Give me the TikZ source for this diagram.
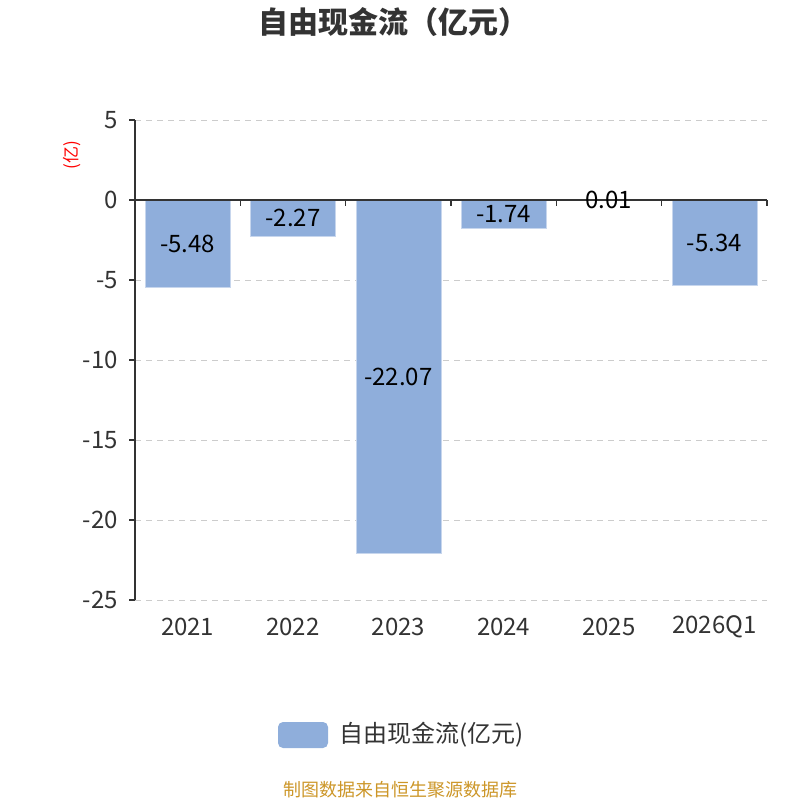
\documentclass[tikz,border=0pt]{standalone}
\usepackage{fontspec}
\setmainfont{Noto Sans CJK SC}
\usepackage{tikz}
\definecolor{barblue}{RGB}{143,174,219}
\definecolor{axisgray}{RGB}{51,51,51}
\definecolor{gridgray}{RGB}{204,204,204}
\definecolor{srcgold}{RGB}{204,150,40}

\begin{document}
\begin{tikzpicture}[x=1pt,y=-1pt,
    bar/.style={fill=barblue,draw=barblue!50!white,line width=0.6pt},
    gridline/.style={draw=gridgray,dash pattern=on 6pt off 5pt,line width=1pt},
    axisline/.style={draw=axisgray,line width=1.5pt},
    ticklab/.style={text=axisgray,font=\fontsize{24}{28}\selectfont,inner sep=0pt},
    vallab/.style={text=black,font=\fontsize{24}{28}\selectfont,inner sep=0pt}]
    \useasboundingbox (0,0) rectangle (800,800);
    % title and unit
    \node[text=axisgray,font=\fontsize{30}{34}\selectfont\bfseries] (title) at (393,22) {自由现金流（亿元）};
    \node[text=red,rotate=90,font=\fontsize{17}{20}\selectfont] (unit) at (72,155) {(亿)};
    % grid
    \foreach \v in {5,-5,-10,-15,-20,-25}
        \draw[gridline] (135,{200-16*\v}) -- (767,{200-16*\v});
    % bars
    \foreach \i/\v in {0/-5.48,1/-2.27,2/-22.07,3/-1.74,4/0.01,5/-5.34}{
        \pgfmathsetmacro\xc{135+105.33*(\i+0.5)}
        \draw[bar] (\xc-42.5,200) rectangle (\xc+42.5,{200-16*\v});
    }
    % axes
    \draw[axisline] (135,120) -- (135,600);
    \draw[axisline] (135,200) -- (767,200);
    \foreach \k in {0,...,6}
        \draw[axisline] ({135+105.33*\k},200) -- ({135+105.33*\k},206);
    \foreach \v [count=\n] in {5,0,-5,-10,-15,-20,-25}{
        \draw[axisline] (129,{200-16*\v}) -- (135,{200-16*\v});
        \node[ticklab,anchor=east] (ytick\n) at (118,{200-16*\v}) {\v};
    }
    % labels
    \foreach \i/\v/\c in {0/-5.48/2021,1/-2.27/2022,2/-22.07/2023,3/-1.74/2024,4/0.01/2025,5/-5.34/2026Q1}{
        \pgfmathsetmacro\xc{135+105.33*(\i+0.5)}
        \node[vallab] (val\i) at (\xc,{200-8*\v}) {\v};
        \node[ticklab] (cat\i) at (\xc,627) {\c};
    }
    % legend
    \fill[barblue,rounded corners=5pt] (278,722) rectangle (328,748);
    \node[text=axisgray,anchor=west,font=\fontsize{24}{28}\selectfont,inner sep=0pt] (legtext) at (339,735) {自由现金流(亿元)};
    \node[text=srcgold,font=\fontsize{18}{22}\selectfont] (source) at (400,790) {制图数据来自恒生聚源数据库};
\end{tikzpicture}
\end{document}
